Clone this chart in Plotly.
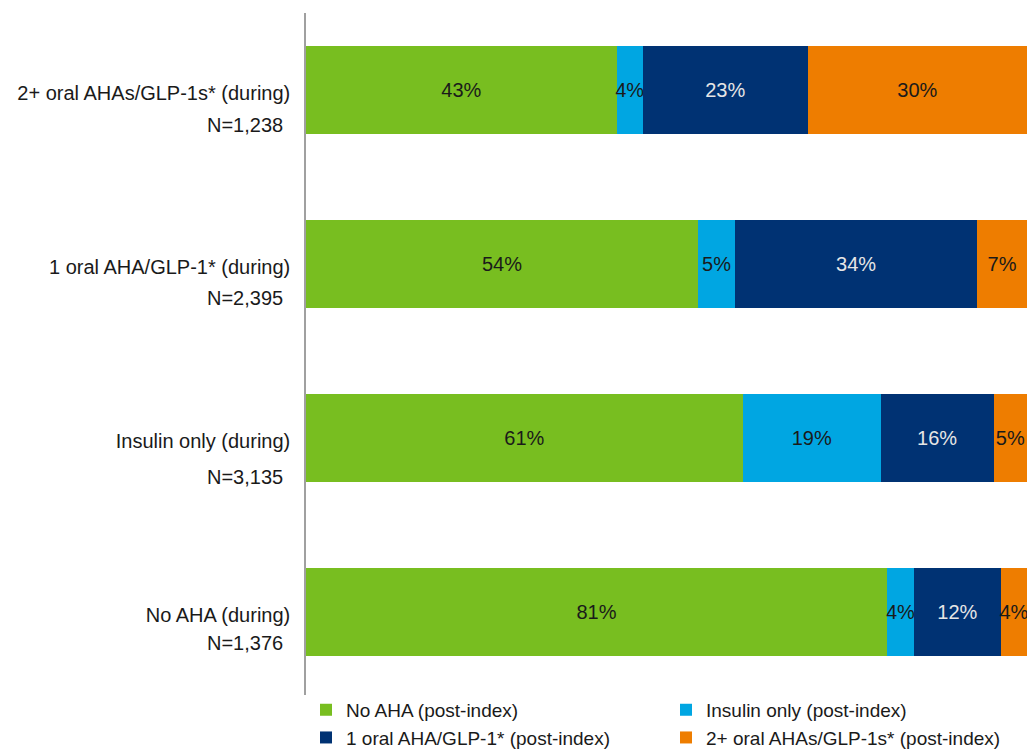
import plotly.graph_objects as go

categories = [
    "2+ oral AHAs/GLP-1s* (during)",
    "1 oral AHA/GLP-1* (during)",
    "Insulin only (during)",
    "No AHA (during)",
]
n_labels = ["N=1,238", "N=2,395", "N=3,135", "N=1,376"]

series_names = [
    "No AHA (post-index)",
    "Insulin only (post-index)",
    "1 oral AHA/GLP-1* (post-index)",
    "2+ oral AHAs/GLP-1s* (post-index)",
]
no_aha = [43.1, 54.4, 60.6, 80.6]
insulin_only = [3.6, 5.1, 19.1, 3.7]
one_oral = [22.9, 33.6, 15.7, 12.1]
two_plus_oral = [30.4, 6.9, 4.6, 3.6]

no_aha_text = ["43%", "54%", "61%", "81%"]
insulin_only_text = ["4%", "5%", "19%", "4%"]
one_oral_text = ["23%", "34%", "16%", "12%"]
two_plus_oral_text = ["30%", "7%", "5%", "4%"]

colors = ["#78BE20", "#00A6E2", "#003273", "#EE7D00"]
text_colors = ["#1a1a1a", "#1a1a1a", "#e6e6e6", "#1a1a1a"]
n_offsets = [35, 34, 39, 31]

FONT = "Liberation Sans, Arial, sans-serif"

fig = go.Figure()
values = [no_aha, insulin_only, one_oral, two_plus_oral]
texts = [no_aha_text, insulin_only_text, one_oral_text, two_plus_oral_text]
for name, vals, txt, col, tcol in zip(series_names, values, texts, colors, text_colors):
    fig.add_trace(go.Bar(
        y=categories, x=vals, name=name, orientation="h",
        marker=dict(color=col, line=dict(width=0)),
        text=txt, textposition="inside", insidetextanchor="middle",
        constraintext="none", textangle=0,
        textfont=dict(family=FONT, size=20, color=tcol),
        width=0.51, hoverinfo="skip",
    ))

for cat, nl, off in zip(categories, n_labels, n_offsets):
    fig.add_annotation(
        x=-0.029, xref="paper", y=cat, yref="y", yshift=-off,
        text=nl, showarrow=False, xanchor="right", yanchor="middle",
        font=dict(family=FONT, size=20, color="#1a1a1a"),
    )

fig.update_layout(
    width=1029, height=750,
    barmode="stack",
    margin=dict(l=306, r=2, t=13, b=55, autoexpand=False),
    paper_bgcolor="white", plot_bgcolor="white",
    font=dict(family=FONT, size=20, color="#1a1a1a"),
    showlegend=True,
    legend=dict(
        orientation="h", x=0.0, xanchor="left", y=0.006, yanchor="top",
        itemwidth=30, entrywidth=315, traceorder="normal",
        font=dict(family=FONT, size=19, color="#1a1a1a"),
        bgcolor="rgba(0,0,0,0)", itemclick=False, itemdoubleclick=False,
        tracegroupgap=0,
    ),
    xaxis=dict(range=[0, 100], visible=False, fixedrange=True),
    yaxis=dict(
        categoryorder="array", categoryarray=categories,
        range=[3.477, -0.4425],
        showline=True, linecolor="#a0a0a0", linewidth=1.5,
        showgrid=False, zeroline=False, ticks="",
        ticklabelstandoff=10,
        ticklabelshift=-3,
        tickfont=dict(family=FONT, size=20, color="#1a1a1a"),
        fixedrange=True,
    ),
)

fig.write_html("out.html")
